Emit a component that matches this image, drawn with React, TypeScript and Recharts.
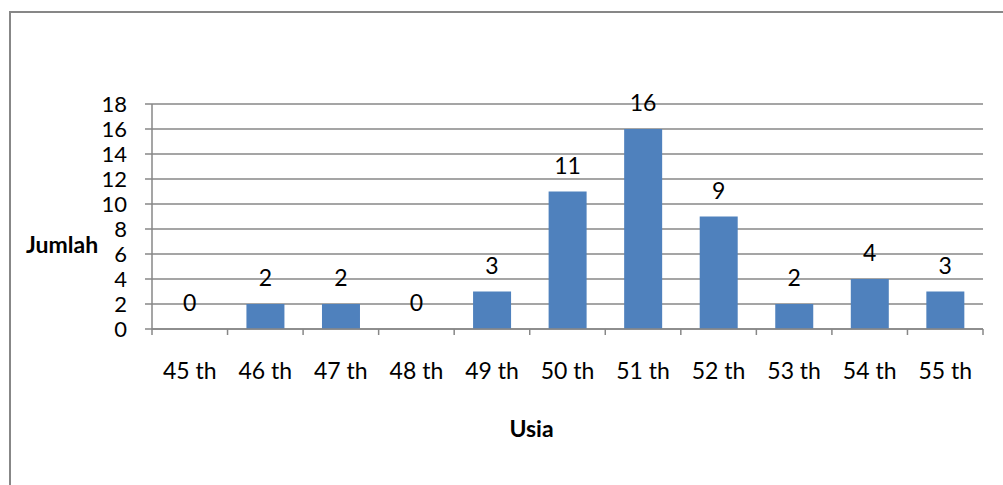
import { ComposedChart, Bar, Line, XAxis, YAxis, CartesianGrid, LabelList } from "recharts"

const categories = ["45 th", "46 th", "47 th", "48 th", "49 th", "50 th", "51 th", "52 th", "53 th", "54 th", "55 th"]
const jumlah = [0, 2, 2, 0, 3, 11, 16, 9, 2, 4, 3]
const yTicks = [0, 2, 4, 6, 8, 10, 12, 14, 16, 18]

const data = categories.map((usia, i) => ({ usia, jumlah: jumlah[i] }))

const W = 1003
const H = 485
const margin = { top: 104, right: 20, bottom: 36, left: 24 }
const Y_AXIS_W = 128
const plotW = W - margin.left - margin.right - Y_AXIS_W
const band = plotW / categories.length

const font = "Lato, 'Open Sans', sans-serif"
const grey = "#878787"

// tick marks sit on the category boundaries, like the spreadsheet chart
function CategoryTick(props: any) {
  const { x, y, payload, index } = props
  const last = index === categories.length - 1
  const top = y - 8
  return (
    <g>
      <line x1={x - band / 2} x2={x - band / 2} y1={top} y2={top + 6} stroke={grey} strokeWidth={1.5} />
      {last && <line x1={x + band / 2} x2={x + band / 2} y1={top} y2={top + 6} stroke={grey} strokeWidth={1.5} />}
      <text x={x} y={y + 42} textAnchor="middle" fontFamily={font} fontSize={23} fill="#000">
        {payload.value}
      </text>
    </g>
  )
}

export default function App() {
  return (
    <div style={{ position: "absolute", left: 0, top: 0, width: W, height: H, background: "#fff", overflow: "hidden" }}>
      <div style={{ position: "absolute", left: 9, top: 11, width: W, height: H, border: `2px solid ${grey}` }} />
      <div style={{ position: "absolute", left: 0, top: 0 }}>
        <ComposedChart width={W} height={H} data={data} margin={margin} barCategoryGap="25%">
          <CartesianGrid vertical={false} stroke={grey} strokeWidth={1.5} />
          <XAxis
            dataKey="usia"
            height={120}
            axisLine={{ stroke: grey, strokeWidth: 1.5 }}
            tickLine={false}
            tick={<CategoryTick />}
            interval={0}
            label={{ value: "Usia", position: "insideBottom", offset: 12, dx: -36, fontFamily: font, fontSize: 23, fontWeight: 700, fill: "#000" }}
          />
          <YAxis
            width={Y_AXIS_W}
            domain={[0, 18]}
            ticks={yTicks}
            interval={0}
            axisLine={{ stroke: grey, strokeWidth: 1.5 }}
            tickLine={{ stroke: grey, strokeWidth: 1.5 }}
            tickSize={7}
            tickMargin={18}
            tick={{ fontFamily: font, fontSize: 22, fill: "#000" }}
            label={{ value: "Jumlah", position: "insideLeft", offset: 2, dy: 28, fontFamily: font, fontSize: 23, fontWeight: 700, fill: "#000" }}
          />
          <Bar dataKey="jumlah" fill="#4F81BD" isAnimationActive={false} />
          <Line dataKey="jumlah" stroke="none" dot={false} activeDot={false} isAnimationActive={false}>
            <LabelList dataKey="jumlah" position="top" offset={18} style={{ fontFamily: font, fontSize: 23, fill: "#000" }} />
          </Line>
        </ComposedChart>
      </div>
    </div>
  )
}
